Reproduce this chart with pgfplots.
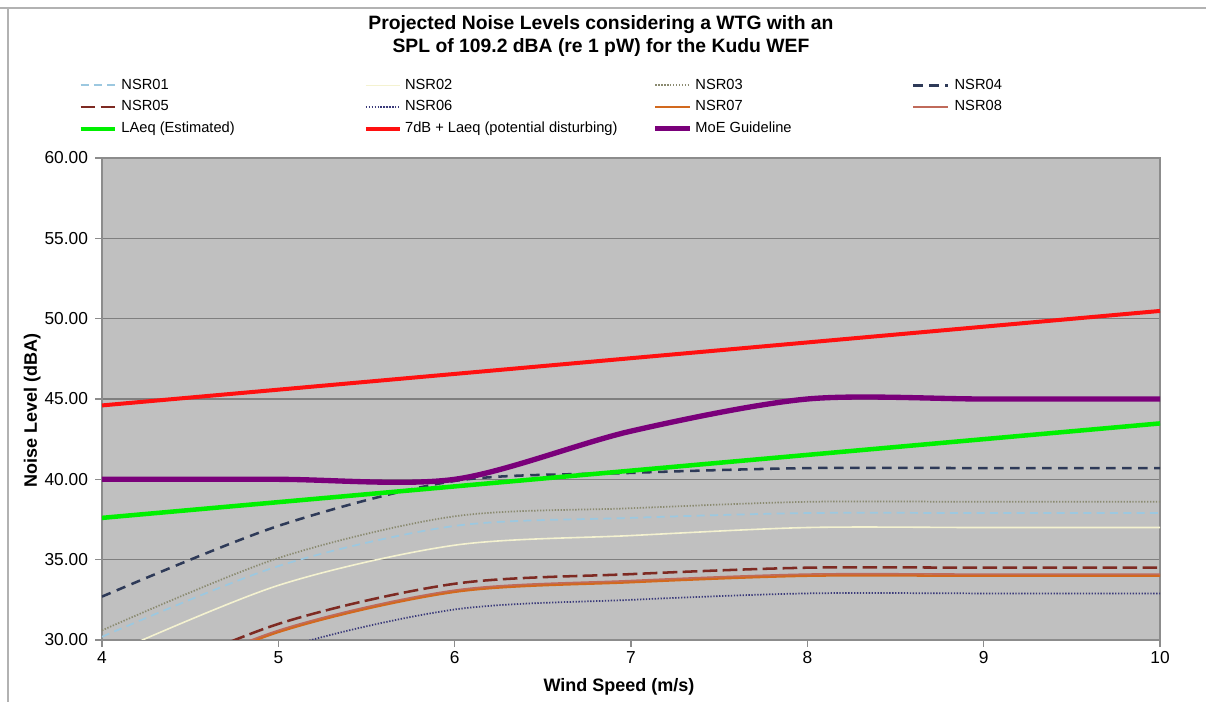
\documentclass[border=0pt]{standalone}
\usepackage{fontspec}
\setmainfont{Liberation Sans}
\usepackage{pgfplots}
\pgfplotsset{compat=1.18}
\definecolor{plotbg}{HTML}{C0C0C0}
\definecolor{gridc}{HTML}{7F7F7F}
\definecolor{axc}{HTML}{8C8C8C}
\definecolor{cA}{HTML}{9CC8E0}
\definecolor{cB}{HTML}{F4F2D0}
\definecolor{cC}{HTML}{8A8A70}
\definecolor{cD}{HTML}{2E3A58}
\definecolor{cE}{HTML}{7E2A22}
\definecolor{cF}{HTML}{3A3A7A}
\definecolor{cG}{HTML}{D2691E}
\definecolor{cH}{HTML}{C06A5A}
\definecolor{cLA}{HTML}{00F000}
\definecolor{cSD}{HTML}{FF1010}
\definecolor{cMoE}{HTML}{7A007A}
\newcommand{\LA}[1]{\makebox[184.75pt][l]{\hspace{3pt}#1}}
\newcommand{\LB}[1]{\makebox[187.75pt][l]{\hspace{2pt}#1}}
\newcommand{\LC}[1]{\makebox[164.5pt][l]{\hspace{2pt}#1}}
\newcommand{\LD}[1]{\makebox[80pt][l]{\hspace{4pt}#1}}
\begin{document}
\begin{tikzpicture}
\useasboundingbox (-76.5pt,-46.5pt) rectangle (828pt,480pt);
\fill[white] (-76.5pt,-46.5pt) rectangle (828pt,480pt);
\begin{axis}[
  scale only axis, width=793.5pt, height=361.5pt,
  xmin=4, xmax=10, ymin=30, ymax=60,
  xtick={4,5,6,7,8,9,10}, ytick={30,35,40,45,50,55,60},
  /pgf/number format/assume math mode=true,
  yticklabel style={/pgf/number format/.cd, fixed, fixed zerofill, precision=2, /tikz/.cd, font=\fontsize{13}{15}\selectfont, xshift=-2pt},
  xticklabel style={font=\fontsize{13}{15}\selectfont},
  axis background/.style={fill=plotbg},
  ymajorgrids, major grid style={draw=gridc, line width=1pt},
  axis line style={draw=axc, line width=1pt},
  tick style={draw=axc, line width=0.8pt}, tick align=outside, major tick length=5pt, tick pos=left,
  xlabel={Wind Speed (m/s)}, ylabel={Noise Level (dBA)},
  xlabel style={at={(axis description cs:0.4887,-0.0975)}, anchor=center, font=\bfseries\fontsize{13.5}{16}\selectfont},
  ylabel style={at={(axis description cs:-0.066,0.477)}, anchor=center, rotate=0, font=\bfseries\fontsize{13.5}{16}\selectfont},
  title={Projected Noise Levels considering a WTG with an\\SPL of 109.2 dBA (re 1 pW) for the Kudu WEF},
  title style={at={(axis description cs:0.4716,1.2365)}, anchor=center, align=center, font=\bfseries\fontsize{14.5}{17.25}\selectfont},
  legend columns=4,
  legend cell align=left,
  legend style={draw=none, fill=none, at={(axis description cs:-0.0227,1.1654)}, anchor=north west,
    font=\fontsize{11}{13}\selectfont, inner sep=0pt, row sep=6.1pt,
    nodes={inner sep=0pt, text height=8pt, text depth=2.2pt}},
  legend image code/.code={\draw[#1] (0pt,0pt) -- (26pt,0pt);},
  every axis plot/.append style={smooth, tension=0.5},
]
\addplot[cA, line width=1.3pt, dash pattern=on 6pt off 4pt] coordinates {(4,30.2) (5,34.6) (6,37.1) (7,37.6) (8,37.9) (9,37.9) (10,37.9)};
\addlegendentry{\LA{NSR01}}
\addplot[cB, line width=1.2pt] coordinates {(4,28.9) (5,33.4) (6,35.9) (7,36.5) (8,37.0) (9,37.0) (10,37.0)};
\addlegendentry{\LB{NSR02}}
\addplot[cC, line width=1.3pt, dash pattern=on 1pt off 1.2pt] coordinates {(4,30.6) (5,35.1) (6,37.7) (7,38.2) (8,38.6) (9,38.6) (10,38.6)};
\addlegendentry{\LC{NSR03}}
\addplot[cD, line width=1.9pt, dash pattern=on 7pt off 5pt] coordinates {(4,32.7) (5,37.1) (6,39.9) (7,40.4) (8,40.7) (9,40.7) (10,40.7)};
\addlegendentry{\LD{NSR04}}
\addplot[cE, line width=1.9pt, dash pattern=on 11pt off 4pt] coordinates {(4,26.5) (5,31.0) (6,33.5) (7,34.1) (8,34.5) (9,34.5) (10,34.5)};
\addlegendentry{\LA{NSR05}}
\addplot[cF, line width=1.3pt, dash pattern=on 1pt off 1.2pt] coordinates {(4,24.9) (5,29.4) (6,31.9) (7,32.5) (8,32.9) (9,32.9) (10,32.9)};
\addlegendentry{\LB{NSR06}}
\addplot[cG, line width=1.9pt] coordinates {(4,26.0) (5,30.5) (6,33.0) (7,33.6) (8,34.0) (9,34.0) (10,34.0)};
\addlegendentry{\LC{NSR07}}
\addplot[cH, line width=1.2pt] coordinates {(4,26.1) (5,30.6) (6,33.1) (7,33.7) (8,34.1) (9,34.1) (10,34.1)};
\addlegendentry{\LD{NSR08}}
\addplot[cLA, line width=3.4pt] coordinates {(4,37.60) (5,38.58) (6,39.56) (7,40.54) (8,41.52) (9,42.50) (10,43.48)};
\addlegendentry{\LA{LAeq (Estimated)}}
\addplot[cSD, line width=3pt] coordinates {(4,44.60) (5,45.58) (6,46.56) (7,47.54) (8,48.52) (9,49.50) (10,50.48)};
\addlegendentry{\LB{7dB + Laeq (potential disturbing)}}
\addplot[cMoE, line width=4pt] coordinates {(4,40) (5,40) (6,40) (7,43) (8,45) (9,45) (10,45)};
\addlegendentry{\LC{MoE Guideline}}
\end{axis}
\draw[draw=black!30, line width=1.1pt] (-76.5pt,474pt) -- (828pt,474pt);
\draw[draw=black!30, line width=1.1pt] (-70.5pt,-46.5pt) -- (-70.5pt,474pt);
\end{tikzpicture}
\end{document}
